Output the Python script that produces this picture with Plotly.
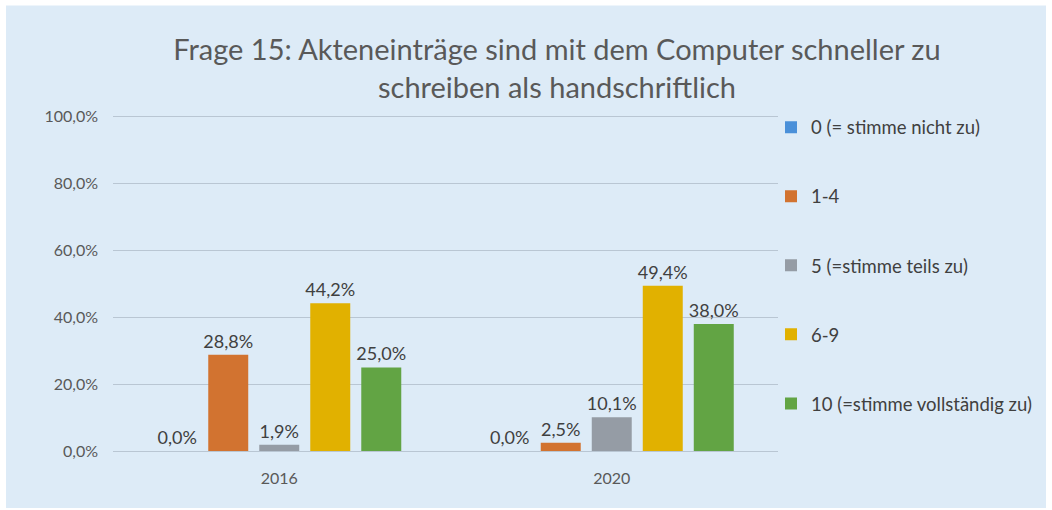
import plotly.graph_objects as go

years = ["2016", "2020"]
series_names = ["0 (= stimme nicht zu)", "1-4", "5 (=stimme teils zu)", "6-9", "10 (=stimme vollständig zu)"]
v_0 = [0.0, 0.0]
v_1_4 = [28.8, 2.5]
v_5 = [1.9, 10.1]
v_6_9 = [44.2, 49.4]
v_10 = [25.0, 38.0]
y_ticks = [0, 20, 40, 60, 80, 100]
y_ticktext = [f"{t:.1f}%".replace(".", ",") for t in y_ticks]

colors = ["#4A90D9", "#D27330", "#959CA5", "#E1B100", "#62A444"]
bg = "#DDEBF7"
font_family = "Lato, 'Open Sans', sans-serif"

# plot area: 0% at y=451px, 100% at y=117px; range goes a bit above 100 so its gridline shows
y_max = 102
plot_h = 334 * y_max / 100
top_px = 451 - plot_h

fig = go.Figure()
for i, (name, vals) in enumerate(zip(series_names, [v_0, v_1_4, v_5, v_6_9, v_10])):
    fig.add_trace(go.Bar(
        x=years, y=vals, name=name,
        marker=dict(color=colors[i], line=dict(width=0)),
        texttemplate="%{y:.1f}%", textposition="outside",
        textfont=dict(size=18, color="#404040", family=font_family),
        constraintext="none",
        cliponaxis=False,
        legendgroup=str(i),
    ))

fig.update_layout(
    width=1052, height=510,
    separators=",.",
    paper_bgcolor="white",
    plot_bgcolor=bg,
    font=dict(family=font_family, color="#595959"),
    margin=dict(l=113, r=274, t=top_px, b=59),
    barmode="group",
    bargap=0.233,
    bargroupgap=0.216,
    title=dict(
        text="Frage 15: Akteneinträge sind mit dem Computer schneller zu<br>schreiben als handschriftlich",
        x=557 / 1052, xanchor="center", xref="container",
        y=1 - 60 / 510, yanchor="top", yref="container",
        font=dict(size=29, color="#595959", family=font_family),
    ),
    yaxis=dict(
        range=[0, y_max], tickvals=y_ticks, ticktext=y_ticktext,
        showgrid=True, gridcolor="#B9C6D3", gridwidth=1.3,
        zeroline=True, zerolinecolor="#B9C6D3", zerolinewidth=1.3,
        tickfont=dict(size=16, color="#595959"), ticks="",
        ticklabelstandoff=14,
    ),
    xaxis=dict(
        showline=False, ticks="", tickfont=dict(size=16, color="#595959"),
        ticklabelstandoff=16,
    ),
    legend=dict(
        x=(771 - 113) / 665, xanchor="left", y=(451 - 109) / plot_h, yanchor="top",
        font=dict(size=18.5, color="#404040"),
        tracegroupgap=42, bgcolor="rgba(0,0,0,0)",
        itemwidth=30, maxheight=420,
    ),
    showlegend=True,
    shapes=[dict(
        type="rect", xref="paper", yref="paper", layer="below",
        x0=(6 - 113) / 665, x1=(1046 - 113) / 665,
        y0=(451 - 508) / plot_h, y1=(451 - 6) / plot_h,
        fillcolor=bg, line=dict(width=0),
    )],
)

fig.write_html(
    "out.html",
    config={"displayModeBar": False},
    post_script="document.body.style.margin='0';document.body.style.overflow='hidden';",
)
